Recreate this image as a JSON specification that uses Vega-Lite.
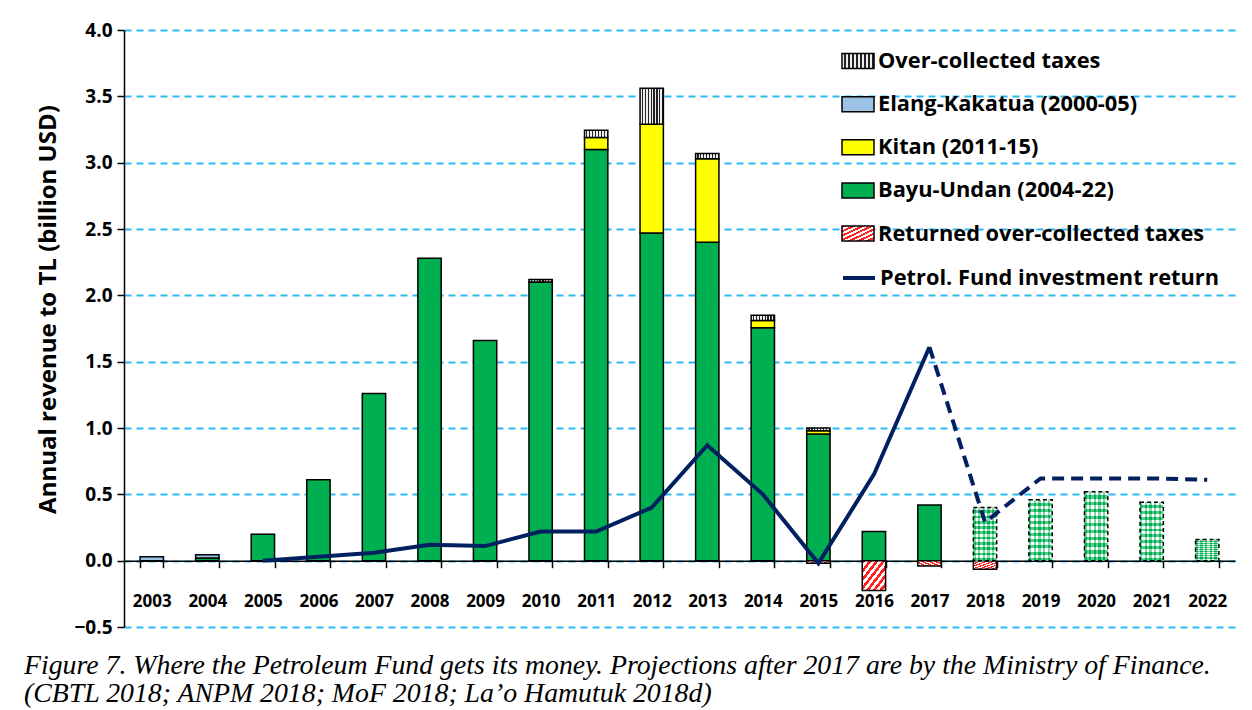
{
  "$schema": "https://vega.github.io/schema/vega-lite/v6.json",
  "width": 1111,
  "height": 597,
  "autosize": {"type": "none"},
  "padding": {"left": 124, "top": 30, "right": 17, "bottom": 83},
  "background": "white",
  "config": {
    "view": {"stroke": null},
    "axisY": {
      "format": ".1f",
      "grid": true,
      "gridColor": "#2DB7F0",
      "gridDash": [7, 5],
      "gridWidth": 1.8,
      "domainColor": "black",
      "domainWidth": 1.5,
      "tickColor": "black",
      "tickSize": 7,
      "tickWidth": 1.5,
      "labelFont": "Open Sans",
      "labelFontWeight": "bold",
      "labelFontSize": 19,
      "labelColor": "black",
      "labelPadding": 5,
      "titleFont": "Open Sans",
      "titleFontSize": 24,
      "titleFontWeight": "bold",
      "titleColor": "black",
      "titlePadding": 13
    },
    "axisX": {
      "domainColor": "black",
      "domainWidth": 1.5,
      "tickColor": "black",
      "tickSize": 7,
      "tickWidth": 1.5,
      "tickBand": "extent",
      "labelFont": "Open Sans",
      "labelFontWeight": "bold",
      "labelFontSize": 17,
      "labelColor": "black",
      "labelAngle": 0,
      "labelPadding": 26,
      "offset": -66.33,
      "grid": false,
      "title": null
    }
  },
  "title": {
    "text": [
      "Figure 7. Where the Petroleum Fund gets its money. Projections after 2017 are by the Ministry of Finance.",
      "(CBTL 2018; ANPM 2018; MoF 2018; La’o Hamutuk 2018d)"
    ],
    "orient": "bottom",
    "anchor": "start",
    "frame": "bounds",
    "font": "Liberation Serif",
    "fontStyle": "italic",
    "fontWeight": "normal",
    "fontSize": 27.8,
    "lineHeight": 28,
    "color": "black",
    "offset": 15,
    "dx": -13
  },
  "datasets": {
    "bars": [
      {"year": 2003, "source": "Elang-Kakatua (2000-05)", "value": 0.03},
      {"year": 2004, "source": "Bayu-Undan (2004-22)", "value": 0.02},
      {"year": 2004, "source": "Elang-Kakatua (2000-05)", "value": 0.025},
      {"year": 2005, "source": "Bayu-Undan (2004-22)", "value": 0.2},
      {"year": 2006, "source": "Bayu-Undan (2004-22)", "value": 0.61},
      {"year": 2007, "source": "Bayu-Undan (2004-22)", "value": 1.26},
      {"year": 2008, "source": "Bayu-Undan (2004-22)", "value": 2.28},
      {"year": 2009, "source": "Bayu-Undan (2004-22)", "value": 1.66},
      {"year": 2010, "source": "Bayu-Undan (2004-22)", "value": 2.1},
      {"year": 2010, "source": "Over-collected taxes", "value": 0.02},
      {"year": 2011, "source": "Bayu-Undan (2004-22)", "value": 3.1},
      {"year": 2011, "source": "Kitan (2011-15)", "value": 0.09},
      {"year": 2011, "source": "Over-collected taxes", "value": 0.055},
      {"year": 2012, "source": "Bayu-Undan (2004-22)", "value": 2.47},
      {"year": 2012, "source": "Kitan (2011-15)", "value": 0.82},
      {"year": 2012, "source": "Over-collected taxes", "value": 0.27},
      {"year": 2013, "source": "Bayu-Undan (2004-22)", "value": 2.4},
      {"year": 2013, "source": "Kitan (2011-15)", "value": 0.63},
      {"year": 2013, "source": "Over-collected taxes", "value": 0.04},
      {"year": 2014, "source": "Bayu-Undan (2004-22)", "value": 1.755},
      {"year": 2014, "source": "Kitan (2011-15)", "value": 0.055},
      {"year": 2014, "source": "Over-collected taxes", "value": 0.04},
      {"year": 2015, "source": "Bayu-Undan (2004-22)", "value": 0.955},
      {"year": 2015, "source": "Kitan (2011-15)", "value": 0.025},
      {"year": 2015, "source": "Over-collected taxes", "value": 0.02},
      {"year": 2015, "source": "Returned over-collected taxes", "value": -0.02},
      {"year": 2016, "source": "Bayu-Undan (2004-22)", "value": 0.22},
      {"year": 2016, "source": "Returned over-collected taxes", "value": -0.225},
      {"year": 2017, "source": "Bayu-Undan (2004-22)", "value": 0.42},
      {"year": 2017, "source": "Returned over-collected taxes", "value": -0.04},
      {"year": 2018, "source": "Projected Bayu-Undan (MoF)", "value": 0.4},
      {"year": 2018, "source": "Returned over-collected taxes", "value": -0.065},
      {"year": 2019, "source": "Projected Bayu-Undan (MoF)", "value": 0.46},
      {"year": 2020, "source": "Projected Bayu-Undan (MoF)", "value": 0.52},
      {"year": 2021, "source": "Projected Bayu-Undan (MoF)", "value": 0.44},
      {"year": 2022, "source": "Projected Bayu-Undan (MoF)", "value": 0.16}
    ],
    "ret": [
      {"year": 2005, "value": 0.0, "period": "actual", "series": "Petrol. Fund investment return"},
      {"year": 2006, "value": 0.03, "period": "actual", "series": "Petrol. Fund investment return"},
      {"year": 2007, "value": 0.06, "period": "actual", "series": "Petrol. Fund investment return"},
      {"year": 2008, "value": 0.12, "period": "actual", "series": "Petrol. Fund investment return"},
      {"year": 2009, "value": 0.11, "period": "actual", "series": "Petrol. Fund investment return"},
      {"year": 2010, "value": 0.22, "period": "actual", "series": "Petrol. Fund investment return"},
      {"year": 2011, "value": 0.22, "period": "actual", "series": "Petrol. Fund investment return"},
      {"year": 2012, "value": 0.4, "period": "actual", "series": "Petrol. Fund investment return"},
      {"year": 2013, "value": 0.87, "period": "actual", "series": "Petrol. Fund investment return"},
      {"year": 2014, "value": 0.5, "period": "actual", "series": "Petrol. Fund investment return"},
      {"year": 2015, "value": -0.02, "period": "actual", "series": "Petrol. Fund investment return"},
      {"year": 2016, "value": 0.65, "period": "actual", "series": "Petrol. Fund investment return"},
      {"year": 2017, "value": 1.61, "period": "actual", "series": "Petrol. Fund investment return"},
      {"year": 2017, "value": 1.61, "period": "projected", "series": "Petrol. Fund investment return"},
      {"year": 2018, "value": 0.29, "period": "projected", "series": "Petrol. Fund investment return"},
      {"year": 2019, "value": 0.62, "period": "projected", "series": "Petrol. Fund investment return"},
      {"year": 2020, "value": 0.62, "period": "projected", "series": "Petrol. Fund investment return"},
      {"year": 2021, "value": 0.62, "period": "projected", "series": "Petrol. Fund investment return"},
      {"year": 2022, "value": 0.61, "period": "projected", "series": "Petrol. Fund investment return"}
    ]
  },
  "layer": [
    {
      "data": {"name": "bars"},
      "transform": [
        {"stack": "value", "groupby": ["year"], "sort": [{"field": "source", "order": "ascending"}], "as": ["v0", "v1"]}
      ],
      "encoding": {
        "x": {
          "field": "year",
          "type": "ordinal",
          "scale": {
            "domain": [2003, 2004, 2005, 2006, 2007, 2008, 2009, 2010, 2011, 2012, 2013, 2014, 2015, 2016, 2017, 2018, 2019, 2020, 2021, 2022],
            "paddingInner": 0.58,
            "paddingOuter": 0.29
          }
        },
        "y": {
          "field": "v1",
          "type": "quantitative",
          "scale": {"domain": [-0.5, 4], "nice": false, "zero": false},
          "axis": {"values": [-0.5, 0, 0.5, 1, 1.5, 2, 2.5, 3, 3.5, 4], "titleY": 279},
          "title": "Annual revenue to TL (billion USD)"
        },
        "y2": {"field": "v0"}
      },
      "layer": [
        {
          "transform": [{"filter": "datum.source !== 'Projected Bayu-Undan (MoF)'"}],
          "mark": {"type": "bar", "strokeWidth": 1.5},
          "encoding": {
            "fill": {
              "field": "source",
              "type": "nominal",
              "scale": {
                "domain": ["Over-collected taxes", "Elang-Kakatua (2000-05)", "Kitan (2011-15)", "Bayu-Undan (2004-22)", "Returned over-collected taxes"],
                "range": [
                  {"expr": "{gradient: 'linear', x1: 0, y1: 0, x2: 1, y2: 0, stops: [{offset: 0, color: '#eeeeee'}, {offset: 0.075, color: '#eeeeee'}, {offset: 0.075, color: '#222222'}, {offset: 0.125, color: '#222222'}, {offset: 0.125, color: '#eeeeee'}, {offset: 0.2, color: '#eeeeee'}, {offset: 0.2, color: '#222222'}, {offset: 0.25, color: '#222222'}, {offset: 0.25, color: '#eeeeee'}, {offset: 0.325, color: '#eeeeee'}, {offset: 0.325, color: '#222222'}, {offset: 0.375, color: '#222222'}, {offset: 0.375, color: '#eeeeee'}, {offset: 0.45, color: '#eeeeee'}, {offset: 0.45, color: '#222222'}, {offset: 0.5, color: '#222222'}, {offset: 0.5, color: '#eeeeee'}, {offset: 0.575, color: '#eeeeee'}, {offset: 0.575, color: '#222222'}, {offset: 0.625, color: '#222222'}, {offset: 0.625, color: '#eeeeee'}, {offset: 0.7, color: '#eeeeee'}, {offset: 0.7, color: '#222222'}, {offset: 0.75, color: '#222222'}, {offset: 0.75, color: '#eeeeee'}, {offset: 0.825, color: '#eeeeee'}, {offset: 0.825, color: '#222222'}, {offset: 0.875, color: '#222222'}, {offset: 0.875, color: '#eeeeee'}, {offset: 0.95, color: '#eeeeee'}, {offset: 0.95, color: '#222222'}, {offset: 1, color: '#222222'}]}"},
                  "#9DC3E6",
                  "#FFFF00",
                  "#00B050",
                  {"expr": "{gradient: 'linear', x1: 0, y1: 0, x2: 1, y2: 1, stops: [{offset: 0, color: '#ff2020'}, {offset: 0.07, color: '#ff2020'}, {offset: 0.07, color: '#ffffff'}, {offset: 0.1429, color: '#ffffff'}, {offset: 0.1429, color: '#ff2020'}, {offset: 0.2143, color: '#ff2020'}, {offset: 0.2143, color: '#ffffff'}, {offset: 0.2857, color: '#ffffff'}, {offset: 0.2857, color: '#ff2020'}, {offset: 0.3571, color: '#ff2020'}, {offset: 0.3571, color: '#ffffff'}, {offset: 0.4286, color: '#ffffff'}, {offset: 0.4286, color: '#ff2020'}, {offset: 0.5, color: '#ff2020'}, {offset: 0.5, color: '#ffffff'}, {offset: 0.5714, color: '#ffffff'}, {offset: 0.5714, color: '#ff2020'}, {offset: 0.6429, color: '#ff2020'}, {offset: 0.6429, color: '#ffffff'}, {offset: 0.7143, color: '#ffffff'}, {offset: 0.7143, color: '#ff2020'}, {offset: 0.7857, color: '#ff2020'}, {offset: 0.7857, color: '#ffffff'}, {offset: 0.8571, color: '#ffffff'}, {offset: 0.8571, color: '#ff2020'}, {offset: 0.9286, color: '#ff2020'}, {offset: 0.9286, color: '#ffffff'}, {offset: 1, color: '#ffffff'}]}"}
                ]
              },
              "legend": {
                "orient": "none",
                "legendX": 717,
                "legendY": 14,
                "title": null,
                "padding": 0,
                "symbolType": "M-1,-0.47H1V0.47H-1Z",
                "symbolSize": 1024,
                "symbolStrokeWidth": 1.5,
                "symbolOpacity": 1,
                "labelFont": "Open Sans",
                "labelFontWeight": "bold",
                "labelFontSize": 21.8,
                "labelColor": "black",
                "labelOffset": 3,
                "labelLimit": 500,
                "rowPadding": 14.15
              }
            },
            "stroke": {
              "field": "source",
              "type": "nominal",
              "scale": {
                "domain": ["Over-collected taxes", "Elang-Kakatua (2000-05)", "Kitan (2011-15)", "Bayu-Undan (2004-22)", "Returned over-collected taxes"],
                "range": ["black", "black", "black", "black", "black"]
              }
            }
          }
        },
        {
          "transform": [{"filter": "datum.source === 'Projected Bayu-Undan (MoF)'"}],
          "mark": {
            "type": "bar",
            "fill": {
              "gradient": "linear", "x1": 0, "y1": 0, "x2": 1, "y2": 0,
              "stops": [
                {"offset": 0, "color": "#00B050"}, {"offset": 0.1, "color": "#00B050"}, {"offset": 0.1, "color": "#ffffff"}, {"offset": 0.2, "color": "#ffffff"},
                {"offset": 0.2, "color": "#00B050"}, {"offset": 0.3, "color": "#00B050"}, {"offset": 0.3, "color": "#ffffff"}, {"offset": 0.4, "color": "#ffffff"},
                {"offset": 0.4, "color": "#00B050"}, {"offset": 0.5, "color": "#00B050"}, {"offset": 0.5, "color": "#ffffff"}, {"offset": 0.6, "color": "#ffffff"},
                {"offset": 0.6, "color": "#00B050"}, {"offset": 0.7, "color": "#00B050"}, {"offset": 0.7, "color": "#ffffff"}, {"offset": 0.8, "color": "#ffffff"},
                {"offset": 0.8, "color": "#00B050"}, {"offset": 0.9, "color": "#00B050"}, {"offset": 0.9, "color": "#ffffff"}, {"offset": 1, "color": "#ffffff"}
              ]
            }
          }
        },
        {
          "transform": [{"filter": "datum.source === 'Projected Bayu-Undan (MoF)'"}],
          "mark": {
            "type": "bar",
            "stroke": "black",
            "strokeWidth": 1.5,
            "strokeDash": [4, 3],
            "fill": {
              "gradient": "linear", "x1": 0, "y1": 0, "x2": 0, "y2": 1,
              "stops": [
                {"offset": 0, "color": "rgba(255,255,255,0.5)"}, {"offset": 0.05, "color": "rgba(255,255,255,0.5)"}, {"offset": 0.05, "color": "rgba(0,176,80,0.65)"}, {"offset": 0.1, "color": "rgba(0,176,80,0.65)"},
                {"offset": 0.1, "color": "rgba(255,255,255,0.5)"}, {"offset": 0.15, "color": "rgba(255,255,255,0.5)"}, {"offset": 0.15, "color": "rgba(0,176,80,0.65)"}, {"offset": 0.2, "color": "rgba(0,176,80,0.65)"},
                {"offset": 0.2, "color": "rgba(255,255,255,0.5)"}, {"offset": 0.25, "color": "rgba(255,255,255,0.5)"}, {"offset": 0.25, "color": "rgba(0,176,80,0.65)"}, {"offset": 0.3, "color": "rgba(0,176,80,0.65)"},
                {"offset": 0.3, "color": "rgba(255,255,255,0.5)"}, {"offset": 0.35, "color": "rgba(255,255,255,0.5)"}, {"offset": 0.35, "color": "rgba(0,176,80,0.65)"}, {"offset": 0.4, "color": "rgba(0,176,80,0.65)"},
                {"offset": 0.4, "color": "rgba(255,255,255,0.5)"}, {"offset": 0.45, "color": "rgba(255,255,255,0.5)"}, {"offset": 0.45, "color": "rgba(0,176,80,0.65)"}, {"offset": 0.5, "color": "rgba(0,176,80,0.65)"},
                {"offset": 0.5, "color": "rgba(255,255,255,0.5)"}, {"offset": 0.55, "color": "rgba(255,255,255,0.5)"}, {"offset": 0.55, "color": "rgba(0,176,80,0.65)"}, {"offset": 0.6, "color": "rgba(0,176,80,0.65)"},
                {"offset": 0.6, "color": "rgba(255,255,255,0.5)"}, {"offset": 0.65, "color": "rgba(255,255,255,0.5)"}, {"offset": 0.65, "color": "rgba(0,176,80,0.65)"}, {"offset": 0.7, "color": "rgba(0,176,80,0.65)"},
                {"offset": 0.7, "color": "rgba(255,255,255,0.5)"}, {"offset": 0.75, "color": "rgba(255,255,255,0.5)"}, {"offset": 0.75, "color": "rgba(0,176,80,0.65)"}, {"offset": 0.8, "color": "rgba(0,176,80,0.65)"},
                {"offset": 0.8, "color": "rgba(255,255,255,0.5)"}, {"offset": 0.85, "color": "rgba(255,255,255,0.5)"}, {"offset": 0.85, "color": "rgba(0,176,80,0.65)"}, {"offset": 0.9, "color": "rgba(0,176,80,0.65)"},
                {"offset": 0.9, "color": "rgba(255,255,255,0.5)"}, {"offset": 0.95, "color": "rgba(255,255,255,0.5)"}, {"offset": 0.95, "color": "rgba(0,176,80,0.65)"}, {"offset": 1, "color": "rgba(0,176,80,0.65)"}
              ]
            }
          }
        }
      ]
    },
    {
      "data": {"name": "ret"},
      "transform": [{"filter": "datum.period === 'actual'"}],
      "mark": {"type": "line", "strokeWidth": 4, "strokeJoin": "miter"},
      "encoding": {
        "x": {"field": "year", "type": "ordinal"},
        "y": {"field": "value", "type": "quantitative", "title": "Annual revenue to TL (billion USD)"},
        "color": {
          "field": "series",
          "type": "nominal",
          "scale": {"range": ["#002060"]},
          "legend": {
            "orient": "none",
            "legendX": 717,
            "legendY": 230,
            "title": null,
            "padding": 0,
            "symbolType": "stroke",
            "symbolSize": 1024,
            "symbolStrokeWidth": 4,
            "labelFont": "Open Sans",
            "labelFontWeight": "bold",
            "labelFontSize": 21.8,
            "labelColor": "black",
            "labelOffset": 3,
            "labelLimit": 500
          }
        }
      }
    },
    {
      "data": {"name": "ret"},
      "transform": [{"filter": "datum.period === 'projected'"}],
      "mark": {"type": "line", "strokeWidth": 4, "strokeDash": [12, 7], "stroke": "#002060"},
      "encoding": {
        "x": {"field": "year", "type": "ordinal"},
        "y": {"field": "value", "type": "quantitative", "title": "Annual revenue to TL (billion USD)"}
      }
    }
  ]
}
